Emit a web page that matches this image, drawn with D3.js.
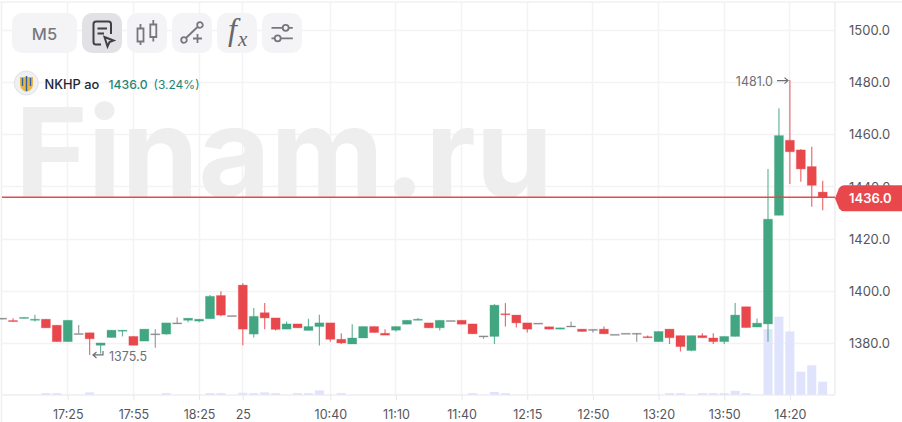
<!DOCTYPE html>
<html>
<head>
<meta charset="utf-8">
<script src="https://cdn.jsdelivr.net/npm/d3@7"></script>
<style>
  html, body { margin: 0; padding: 0; background: #fff; overflow: hidden; }
  svg { display: block; }
  text { font-family: Inter, "Noto Sans", sans-serif; }
</style>
</head>
<body>
<span></span>
<script>
// NKHP ao, 5 minute candles. values
var opens = [1389.6,1388.7,1389.5,1388.8,1389.2,1386.9,1380.6,1383.7,1384,1379.2,1382.2,1384.6,1382.6,1380.8,1383.6,1383.5,1387.8,1388.8,1388.5,1389.4,1398.3,1390.6,1402.3,1383.5,1391.7,1389.7,1385.4,1387.4,1384.9,1386.4,1387.8,1381.5,1379.7,1382,1386.4,1383.8,1385,1387.3,1388.8,1387.8,1385.9,1388.7,1388.8,1387.4,1382.8,1382.6,1391.3,1390.8,1387.8,1387.7,1386.3,1385.4,1386.6,1385.4,1385.3,1385.4,1383.4,1383.8,1383.8,1382.5,1380.6,1385.4,1382.9,1377.2,1382.9,1382,1380.6,1382.6,1394,1386.2,1387.4,1429.1,1457.9,1454.2,1447.8,1438];
var closes = [1389.6,1388.3,1389.9,1389.2,1385.9,1380.6,1388.8,1383.7,1381.7,1380.1,1385,1385,1379.2,1385.4,1383.6,1387.8,1387.8,1389.6,1389.2,1398,1390.8,1390.6,1385.4,1390.3,1389.7,1385.3,1387.4,1385.9,1386.4,1387.8,1381.5,1380.1,1382,1386.4,1384.1,1383.1,1386.4,1388.8,1389.2,1385.9,1388.8,1388.7,1387.3,1383.6,1382.8,1394.6,1391,1387.8,1385.4,1387.7,1385.4,1385.9,1386.6,1384.5,1385.3,1383.6,1383.4,1383.8,1383.8,1382.1,1384.5,1382.1,1378.7,1382.9,1382.1,1380.6,1382.6,1390.8,1386,1387.7,1427.6,1459.7,1453.5,1446.9,1440.6,1436];
var highs = [1389.6,1389.6,1389.9,1390.9,1389.2,1386.9,1388.8,1387,1384,1380.1,1385,1385,1382.6,1385.4,1385.4,1387.8,1389.9,1389.6,1389.2,1398.5,1399.9,1390.6,1403,1393.5,1395.4,1389.7,1388.3,1387.4,1389.4,1390.9,1387.8,1383.8,1387.3,1386.4,1386.4,1385.4,1386.4,1388.8,1389.7,1387.8,1388.8,1388.7,1388.8,1387.4,1382.8,1395,1395.4,1390.8,1387.8,1387.7,1386.3,1385.9,1388.3,1385.4,1385.3,1386.4,1383.4,1383.8,1383.8,1383,1384.5,1385.4,1382.9,1382.9,1383.8,1383.8,1382.6,1395.4,1394,1389.5,1446.9,1470.2,1481,1454.5,1455.4,1442.4];
var lows = [1389.2,1388.3,1389.5,1388.3,1385.9,1380.6,1380.6,1383.7,1375.5,1376,1382.2,1382.6,1379.2,1380.8,1378.3,1383.2,1387.8,1388,1388,1389.4,1390.3,1390.6,1379.2,1382.2,1385.4,1384.9,1385.4,1385.9,1384.9,1379.1,1380.6,1379.7,1379.7,1382,1384.1,1383.1,1384.5,1387.3,1388.8,1385.9,1384.9,1388.7,1387.3,1383.6,1381.7,1379.7,1386.4,1386,1384.1,1387.7,1385.4,1385.4,1386.6,1384.5,1384.1,1383.6,1383.4,1383.8,1380.6,1382.1,1380.6,1379.7,1376.8,1376.9,1382.1,1379.7,1379.7,1382.6,1386,1386.2,1380.6,1429.1,1441.1,1442,1432.4,1431];
var volumes = [0,0,0,0,2,2,0,0,3,0,0,0,0,0,0,2,0,0,0,2,2,0,2.5,2,3,2,0,2,2,5.5,0,2,0,0,0,0,0,0,0,0,0,0,0,2,0,3.5,2,0,0,0,0,0,0,0,0,0,0,0,0,0,0,2,2,0,2,2,2,5,2,0,84,100,81,29.5,37.7,16.7];

var tickIndex = [6,12,18,22,30,36,42,48,54,60,66,72];
var tickLabels = ["17:25","17:55","18:25","25","10:40","11:10","11:40","12:15","12:50","13:20","13:50","14:20"];
var priceTicks = [1380,1400,1420,1440,1460,1480,1500];

var lastPrice = 1436.0;

var green = "#41a681", red = "#e8474c", gray = "#85858c";
var gridColor = "#f3f3f6";

var width = 902, height = 422;
var plotRight = 835, axisY = 395;

var svg = d3.select("span").append("svg")
    .attr("width", width)
    .attr("height", height);

// scales
var xScale = d3.scaleLinear().domain([0, opens.length - 1]).range([2.1, 822.7]);
var yScale = d3.scaleLinear().domain([1380, 1500]).range([343.2, 30.6]);
var volScale = d3.scaleLinear().domain([0, 100]).range([axisY - 0.3, 316.7]);

function crisp(v) { return Math.round(v - 0.5) + 0.5; }

// frame and grid
svg.append("line").attr("x1", 0).attr("x2", width).attr("y1", 2).attr("y2", 2)
    .attr("stroke", "#f0f0f2").attr("stroke-width", 1.5);
svg.append("line").attr("x1", 1.5).attr("x2", 1.5).attr("y1", 2).attr("y2", axisY + 27)
    .attr("stroke", "#f0f0f2").attr("stroke-width", 1.5);

svg.append("g").selectAll("line")
    .data(priceTicks)
    .join("line")
    .attr("x1", 2).attr("x2", plotRight)
    .attr("y1", d => crisp(yScale(d))).attr("y2", d => crisp(yScale(d)))
    .attr("stroke", gridColor).attr("stroke-width", 1.5);

svg.append("g").selectAll("line")
    .data(tickIndex)
    .join("line")
    .attr("x1", d => crisp(xScale(d))).attr("x2", d => crisp(xScale(d)))
    .attr("y1", 2).attr("y2", axisY)
    .attr("stroke", gridColor).attr("stroke-width", 1.5);

svg.append("line").attr("x1", plotRight).attr("x2", plotRight).attr("y1", 2).attr("y2", axisY)
    .attr("stroke", "#eeeef1").attr("stroke-width", 1.5);

// watermark sits over the grid, cut at the price line
svg.append("clipPath").attr("id", "markClip")
    .append("rect").attr("x", 0).attr("y", 0).attr("width", 700).attr("height", 197);
svg.append("text")
    .attr("x", 15)
    .attr("y", 197)
    .attr("clip-path", "url(#markClip)")
    .attr("fill", "#eeeeef")
    .style("font-weight", 700)
    .style("font-size", "124px")
    .text("Finam.ru");

svg.append("line").attr("x1", 2).attr("x2", plotRight).attr("y1", axisY).attr("y2", axisY)
    .attr("stroke", "#eeeef1").attr("stroke-width", 1.5);

// volume
svg.append("g").selectAll("rect")
    .data(volumes)
    .join("rect")
    .attr("x", (d, i) => xScale(i) - 4.5)
    .attr("y", d => volScale(d))
    .attr("width", 9)
    .attr("height", d => volScale(0) - volScale(d))
    .attr("fill", "#dfe3fb");

// candles
var idx = d3.range(opens.length);
function candleColor(i) {
    if (opens[i] == closes[i]) return gray;
    return closes[i] > opens[i] ? green : red;
}

var candles = svg.append("g").selectAll("g")
    .data(idx)
    .join("g");

candles.append("line")
    .attr("x1", i => xScale(i)).attr("x2", i => xScale(i))
    .attr("y1", i => yScale(highs[i])).attr("y2", i => yScale(lows[i]))
    .attr("stroke", i => candleColor(i))
    .attr("stroke-opacity", 0.8)
    .attr("stroke-width", 1.2);

candles.append("rect")
    .attr("x", i => xScale(i) - 4.5)
    .attr("y", i => yScale(Math.max(opens[i], closes[i])))
    .attr("width", 9)
    .attr("height", i => Math.max(1, Math.abs(yScale(opens[i]) - yScale(closes[i]))))
    .attr("fill", i => candleColor(i))
    .attr("stroke", i => candleColor(i))
    .attr("stroke-opacity", 0.3)
    .attr("stroke-width", 1);

// last price line
svg.append("line")
    .attr("x1", 2).attr("x2", plotRight)
    .attr("y1", yScale(lastPrice)).attr("y2", yScale(lastPrice))
    .attr("stroke", red).attr("stroke-width", 1.6);

// axes
var yAxis = d3.axisRight(yScale)
    .tickValues(priceTicks)
    .tickSize(0)
    .tickPadding(0)
    .tickFormat(d => d.toFixed(1));

var xAxis = d3.axisBottom(xScale)
    .tickValues(tickIndex)
    .tickSize(5)
    .tickPadding(10)
    .tickFormat((d, i) => tickLabels[i]);

var yG = svg.append("g")
    .attr("transform", "translate(849,0)")
    .call(yAxis);
yG.select(".domain").remove();
yG.selectAll("text").attr("fill", "#55565c").style("font-size", "13px").attr("x", 0);

var xG = svg.append("g")
    .attr("transform", `translate(0,${axisY})`)
    .call(xAxis);
xG.select(".domain").remove();
xG.selectAll("line").attr("stroke", "#e8e8ec").attr("stroke-width", 1);
xG.selectAll("text").attr("fill", "#55565c").style("font-size", "12.5px");

// last price tag
var tagY = yScale(lastPrice) + 1;
svg.append("path")
    .attr("d", `M835,${tagY} L839,${tagY - 10} Q841,${tagY - 13} 844,${tagY - 13} L902,${tagY - 13} L902,${tagY + 13} L844,${tagY + 13} Q841,${tagY + 13} 839,${tagY + 10} Z`)
    .attr("fill", red);
svg.append("text")
    .attr("x", 849).attr("y", tagY + 5)
    .attr("fill", "#fff")
    .style("font-size", "13px").style("font-weight", 600)
    .text(lastPrice.toFixed(1));

// high and low notes
svg.append("text")
    .attr("x", 773).attr("y", yScale(1481) + 5.5)
    .attr("text-anchor", "end")
    .attr("fill", "#6f7076").style("font-size", "12.5px")
    .text("1481.0");
svg.append("path")
    .attr("d", `M777,${yScale(1481)+0.5} H788 M784.5,${yScale(1481)-2.5} L788,${yScale(1481)+0.5} L784.5,${yScale(1481)+3.5}`)
    .attr("fill", "none").attr("stroke", "#6f7076").attr("stroke-width", 1.2);

svg.append("text")
    .attr("x", 109).attr("y", yScale(1375.5) + 6)
    .attr("fill", "#6f7076").style("font-size", "12.5px")
    .text("1375.5");
svg.append("path")
    .attr("d", `M103,${yScale(1375.5)-4} V${yScale(1375.5)} H93 M96.5,${yScale(1375.5)-3} L93,${yScale(1375.5)} L96.5,${yScale(1375.5)+3}`)
    .attr("fill", "none").attr("stroke", "#6f7076").attr("stroke-width", 1.2);

// toolbar
var buttons = [
    {x: 12, w: 65, fill: "#f4f4f6"},
    {x: 82, w: 40, fill: "#e1e1e6"},
    {x: 127, w: 40, fill: "#f4f4f6"},
    {x: 172, w: 40, fill: "#f4f4f6"},
    {x: 217, w: 40, fill: "#f4f4f6"},
    {x: 262, w: 40, fill: "#f4f4f6"}
];
svg.append("g").selectAll("rect")
    .data(buttons)
    .join("rect")
    .attr("x", d => d.x).attr("y", 13)
    .attr("width", d => d.w).attr("height", 40)
    .attr("rx", 10)
    .attr("fill", d => d.fill);

svg.append("text")
    .attr("x", 44.5).attr("y", 39.5)
    .attr("text-anchor", "middle")
    .attr("fill", "#77787e")
    .style("font-size", "16.5px").style("font-weight", 500)
    .text("M5");

var iconDark = "#3f4045", iconGray = "#77787e";
var icons = svg.append("g").attr("fill", "none").attr("stroke-width", 1.8);
// report + cursor
icons.append("path").attr("stroke", iconDark).attr("stroke-width", 2)
    .attr("d", "M101,44.5 H96 Q93.5,44.5 93.5,42 V24 Q93.5,21.5 96,21.5 H108.5 Q111,21.5 111,24 V34 M97.5,28.5 H107 M97.5,33.5 H104");
icons.append("path").attr("stroke", iconDark).attr("stroke-width", 2)
    .attr("d", "M104.5,37 L113.5,40.5 L109.5,42 L107.5,46.5 Z");
// candles
icons.append("path").attr("stroke", iconGray)
    .attr("d", "M137.5,28.5 H143.5 V41.5 H137.5 Z M140.5,24 V28.5 M140.5,41.5 V45 M150.3,24.5 H156.3 V37 H150.3 Z M153.3,20 V24.5 M153.3,37 V41.5");
// line tool
icons.append("path").attr("stroke", iconGray)
    .attr("d", "M186.5,37.5 L197.5,27 M181.2,40 a2.8,2.8 0 1,0 5.6,0 a2.8,2.8 0 1,0 -5.6,0 M197.2,25 a2.8,2.8 0 1,0 5.6,0 a2.8,2.8 0 1,0 -5.6,0 M197.5,34 V43 M193,38.5 H202");
// fx
svg.append("text")
    .attr("x", 228).attr("y", 40)
    .attr("fill", "#66676c")
    .style("font-family", "'Liberation Serif', serif")
    .style("font-style", "italic")
    .style("font-size", "32px")
    .text("f");
svg.append("text")
    .attr("x", 238).attr("y", 46)
    .attr("fill", "#66676c")
    .style("font-family", "'Liberation Serif', serif")
    .style("font-style", "italic")
    .style("font-size", "21px")
    .text("x");
// sliders
icons.append("path").attr("stroke", iconGray)
    .attr("d", "M271.5,27.8 H282.5 M289,27.8 H292.8 M271.5,38.3 H274.5 M281,38.3 H292.8");
icons.append("circle").attr("cx", 285.7).attr("cy", 27.8).attr("r", 3).attr("stroke", iconGray);
icons.append("circle").attr("cx", 277.7).attr("cy", 38.3).attr("r", 3).attr("stroke", iconGray);

// legend
svg.append("circle").attr("cx", 26.3).attr("cy", 83).attr("r", 12)
    .attr("fill", "#eff0f2").attr("stroke", "#e2e2e6");
svg.append("path")
    .attr("d", "M20,77 H33 V84 Q33,90 26.5,92 Q20,90 20,84 Z")
    .attr("fill", "#e9b740");
svg.append("path")
    .attr("d", "M26.5,76 V91 M22.5,78 V86 M30.5,78 V86")
    .attr("stroke", "#2f5fa8").attr("stroke-width", 1.4).attr("fill", "none");

svg.append("text").attr("x", 44.5).attr("y", 89)
    .attr("fill", "#1d2733").style("font-size", "12.8px").style("font-weight", 500)
    .text("NKHP ao");
svg.append("text").attr("x", 108.5).attr("y", 89)
    .attr("fill", "#1f8577").style("font-size", "12.2px").style("font-weight", 500)
    .text("1436.0");
svg.append("text").attr("x", 153.5).attr("y", 89)
    .attr("fill", "#1f8577").style("font-size", "12px").style("font-weight", 400)
    .text("(3.24%)");
</script>
</body>
</html>
